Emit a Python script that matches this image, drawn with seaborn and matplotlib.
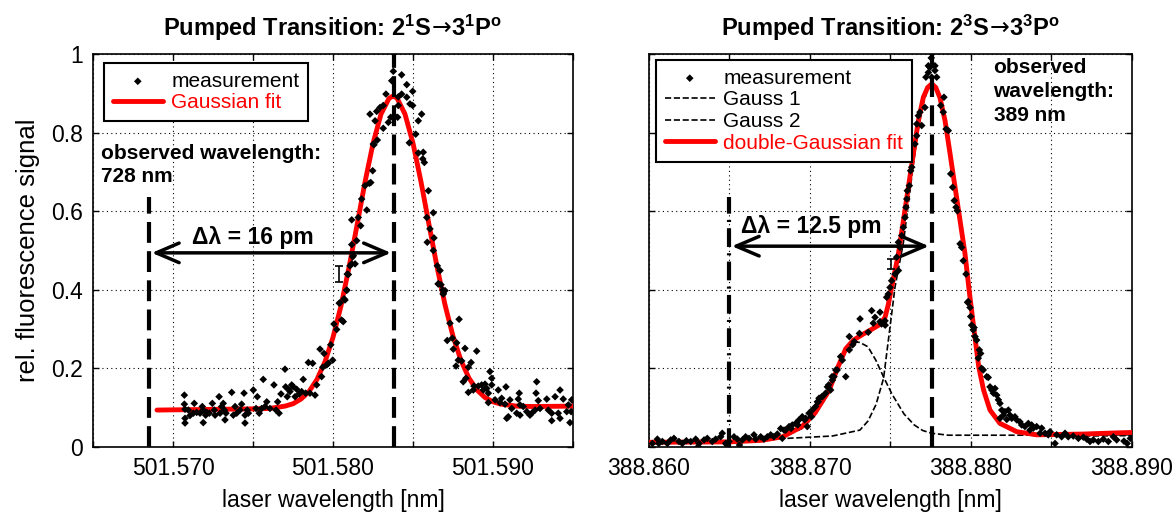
import matplotlib
matplotlib.use("Agg")
import matplotlib.pyplot as plt
import seaborn as sns
import pandas as pd

# ---------------- data ----------------
titles = [r"Pumped Transition: 2$^\mathbf{1}$S$\!\mathsf{\rightarrow}\!$3$^\mathbf{1}$P$^\mathbf{o}$",
          r"Pumped Transition: 2$^\mathbf{3}$S$\!\mathsf{\rightarrow}\!$3$^\mathbf{3}$P$^\mathbf{o}$"]
xlabel = "laser wavelength [nm]"
ylabel = "rel. fluorescence signal"

left_xlim = (501.565, 501.595)
left_xticks = [501.565, 501.570, 501.575, 501.580, 501.585, 501.590, 501.595]
left_xticklabels = ["", "501.570", "", "501.580", "", "501.590", ""]
right_xlim = (388.860, 388.890)
right_xticks = [388.860, 388.865, 388.870, 388.875, 388.880, 388.885, 388.890]
right_xticklabels = ["388.860", "", "388.870", "", "388.880", "", "388.890"]
yticks = [0, 0.2, 0.4, 0.6, 0.8, 1.0]
yticklabels = ["0", "0.2", "0.4", "0.6", "0.8", "1"]

# left panel measurement (wavelength nm, signal)
left_points = [
    (501.57071, 0.132), (501.57071, 0.109), (501.57075, 0.096), (501.57075, 0.073), (501.57096, 0.094),
    (501.57106, 0.080), (501.57127, 0.086), (501.57133, 0.111), (501.57148, 0.088), (501.57169, 0.086),
    (501.57183, 0.103), (501.57189, 0.094), (501.57204, 0.081), (501.57211, 0.088), (501.57227, 0.086),
    (501.57246, 0.111), (501.57258, 0.094), (501.57263, 0.081), (501.57288, 0.128), (501.57294, 0.086),
    (501.57304, 0.103), (501.57314, 0.111), (501.57321, 0.094), (501.57331, 0.086), (501.57367, 0.139),
    (501.57377, 0.081), (501.57388, 0.103), (501.57398, 0.086), (501.57419, 0.094), (501.57429, 0.109),
    (501.57444, 0.137), (501.57450, 0.081), (501.57464, 0.094), (501.57471, 0.086), (501.57502, 0.145),
    (501.57519, 0.098), (501.57527, 0.128), (501.57539, 0.086), (501.57554, 0.098), (501.57564, 0.172),
    (501.57575, 0.103), (501.57586, 0.115), (501.57606, 0.098), (501.57631, 0.158), (501.57644, 0.094),
    (501.57654, 0.115), (501.57663, 0.086), (501.57675, 0.135), (501.57700, 0.198), (501.57704, 0.153),
    (501.57714, 0.128), (501.57721, 0.147), (501.57731, 0.141), (501.57742, 0.158), (501.57752, 0.153),
    (501.57763, 0.128), (501.57773, 0.147), (501.57789, 0.135), (501.57804, 0.141), (501.57814, 0.172),
    (501.57829, 0.137), (501.57846, 0.215), (501.57856, 0.137), (501.57873, 0.213), (501.57888, 0.132),
    (501.57898, 0.158), (501.57919, 0.249), (501.57929, 0.179), (501.57936, 0.203), (501.57944, 0.238),
    (501.57961, 0.209), (501.57971, 0.213), (501.57986, 0.260), (501.57998, 0.221), (501.58006, 0.313),
    (501.58023, 0.299), (501.58044, 0.367), (501.58054, 0.323), (501.58064, 0.319), (501.58075, 0.374),
    (501.58086, 0.399), (501.58096, 0.439), (501.58106, 0.461), (501.58123, 0.484), (501.58138, 0.466),
    (501.57075, 0.061), (501.57189, 0.062), (501.57450, 0.061), (501.57325, 0.069),
    (501.58039, 0.366), (501.58069, 0.377), (501.58086, 0.399), (501.58089, 0.440), (501.58117, 0.466),
    (501.58127, 0.487), (501.58117, 0.515), (501.58148, 0.525), (501.58173, 0.563), (501.58158, 0.584),
    (501.58117, 0.578), (501.58211, 0.603), (501.58179, 0.631), (501.58200, 0.665), (501.58227, 0.671),
    (501.58236, 0.673), (501.58248, 0.703), (501.58252, 0.771), (501.58277, 0.781), (501.58256, 0.769),
    (501.58314, 0.811), (501.58263, 0.830), (501.58346, 0.826), (501.58231, 0.847), (501.58273, 0.854),
    (501.58294, 0.864), (501.58314, 0.869), (501.58331, 0.898), (501.58361, 0.839), (501.58388, 0.841),
    (501.58404, 0.839), (501.58408, 0.869), (501.58367, 0.932), (501.58377, 0.956), (501.58429, 0.947),
    (501.58408, 0.891), (501.58429, 0.898), (501.58461, 0.922), (501.58481, 0.873), (501.58461, 0.890),
    (501.58498, 0.905), (501.58498, 0.869), (501.58533, 0.830), (501.58554, 0.847), (501.58517, 0.796),
    (501.58477, 0.774), (501.58533, 0.748), (501.58564, 0.750), (501.58561, 0.733), (501.58571, 0.724),
    (501.58596, 0.652), (501.58627, 0.596), (501.58586, 0.584), (501.58606, 0.555), (501.58631, 0.532),
    (501.58589, 0.521), (501.58627, 0.500), (501.58652, 0.461), (501.58669, 0.449), (501.58658, 0.415),
    (501.58675, 0.413), (501.58700, 0.398), (501.58689, 0.389),
    (501.58658, 0.415), (501.58689, 0.391), (501.58686, 0.399), (501.58731, 0.315), (501.58788, 0.325),
    (501.58714, 0.271), (501.58746, 0.277), (501.58752, 0.249), (501.58773, 0.265), (501.58825, 0.251),
    (501.58898, 0.244), (501.58783, 0.221), (501.58804, 0.219), (501.58769, 0.206), (501.58863, 0.215),
    (501.58846, 0.203), (501.58831, 0.175), (501.58814, 0.166), (501.58981, 0.192), (501.58992, 0.175),
    (501.58881, 0.155), (501.58846, 0.139), (501.58908, 0.155), (501.58929, 0.158), (501.58950, 0.160),
    (501.58961, 0.149), (501.58939, 0.145), (501.58971, 0.137), (501.58877, 0.145), (501.58992, 0.158),
    (501.59033, 0.145), (501.59081, 0.153), (501.59054, 0.124), (501.59013, 0.120), (501.58971, 0.113),
    (501.59106, 0.120), (501.59164, 0.137), (501.59158, 0.122), (501.59273, 0.166), (501.59269, 0.137),
    (501.59283, 0.118), (501.59336, 0.122), (501.59419, 0.145), (501.59388, 0.128), (501.59439, 0.122),
    (501.59492, 0.120), (501.59471, 0.107), (501.59117, 0.098), (501.59096, 0.077), (501.59169, 0.081),
    (501.59211, 0.090), (501.59263, 0.094), (501.59242, 0.086), (501.59294, 0.098), (501.59346, 0.094),
    (501.59367, 0.086), (501.59408, 0.086), (501.59461, 0.090), (501.59169, 0.107), (501.59189, 0.103),
    (501.59044, 0.113), (501.59075, 0.109),
    (501.59086, 0.073), (501.59148, 0.086), (501.59231, 0.081), (501.59367, 0.067), (501.59481, 0.062),
    (501.59419, 0.073), (501.59488, 0.090),
]

# left panel Gaussian fit
left_fit_x = [501.5690, 501.5730, 501.5750, 501.5760, 501.5770, 501.5775, 501.5780, 501.5785, 501.5790,
              501.5795, 501.5800, 501.5805, 501.5810, 501.5815, 501.5820, 501.5825, 501.5830, 501.5835,
              501.58375, 501.5840, 501.5845, 501.5850, 501.5855, 501.5860, 501.5865, 501.5870, 501.5875,
              501.5880, 501.5885, 501.5890, 501.5895, 501.5900, 501.5905, 501.5915, 501.5925, 501.5950]
left_fit_y = [0.094, 0.096, 0.097, 0.098, 0.104, 0.110, 0.122, 0.141, 0.172,
              0.217, 0.279, 0.359, 0.457, 0.564, 0.674, 0.772, 0.847, 0.887,
              0.893, 0.888, 0.847, 0.773, 0.675, 0.566, 0.459, 0.362, 0.282,
              0.220, 0.175, 0.145, 0.126, 0.115, 0.109, 0.104, 0.103, 0.104]

# right panel measurement
right_points = [
    (388.86021, 0.009), (388.86052, 0.020), (388.86083, 0.014), (388.86114, 0.009), (388.86135, 0.018),
    (388.86155, 0.022), (388.86186, 0.014), (388.86207, 0.009), (388.86232, 0.016), (388.86259, 0.014),
    (388.86290, 0.020), (388.86311, 0.009), (388.86342, 0.018), (388.86362, 0.022), (388.86393, 0.014),
    (388.86414, 0.020), (388.86445, 0.026), (388.86455, 0.035), (388.86476, 0.009), (388.86497, 0.014),
    (388.86528, 0.026), (388.86549, 0.020), (388.86580, 0.018), (388.86600, 0.026), (388.86621, 0.022),
    (388.86652, 0.031), (388.86663, 0.020), (388.86694, 0.026), (388.86714, 0.020), (388.86735, 0.026),
    (388.86756, 0.031), (388.86776, 0.026), (388.86797, 0.033), (388.86828, 0.022), (388.86818, 0.047),
    (388.86849, 0.043), (388.86870, 0.052), (388.86890, 0.056), (388.86911, 0.060), (388.86932, 0.069),
    (388.86952, 0.077), (388.86973, 0.073), (388.86983, 0.052), (388.86994, 0.086), (388.87014, 0.094),
    (388.87035, 0.103), (388.87046, 0.115), (388.87056, 0.124), (388.87077, 0.128), (388.87097, 0.137),
    (388.87108, 0.153), (388.87128, 0.145), (388.87139, 0.170), (388.87149, 0.179), (388.87160, 0.196),
    (388.86061, 0.009), (388.86306, 0.001), (388.86487, 0.005), (388.86562, 0.005),
    (388.87222, 0.179), (388.87265, 0.260), (388.87244, 0.281), (388.87307, 0.289), (388.87393, 0.315),
    (388.87435, 0.319), (388.87467, 0.310), (388.87116, 0.158), (388.87137, 0.179), (388.87169, 0.196),
    (388.87201, 0.221), (388.87190, 0.230), (388.87244, 0.247), (388.87275, 0.268), (388.87073, 0.128),
    (388.87052, 0.115), (388.87009, 0.077), (388.86967, 0.069), (388.86924, 0.056), (388.86882, 0.047),
    (388.86839, 0.043),
    (388.87311, 0.326), (388.87362, 0.292), (388.87383, 0.347), (388.87404, 0.330), (388.87435, 0.343),
    (388.87445, 0.313), (388.87466, 0.321), (388.87476, 0.381), (388.87486, 0.389), (388.87497, 0.406),
    (388.87507, 0.423), (388.87528, 0.440), (388.87549, 0.449), (388.87538, 0.483), (388.87559, 0.508),
    (388.87549, 0.521), (388.87570, 0.538), (388.87580, 0.559), (388.87590, 0.584), (388.87596, 0.610),
    (388.87601, 0.631), (388.87604, 0.652), (388.87617, 0.665), (388.87625, 0.703), (388.87632, 0.712),
    (388.87652, 0.771), (388.87663, 0.792), (388.87663, 0.822), (388.87673, 0.843), (388.87683, 0.852),
    (388.87694, 0.818), (388.87714, 0.864), (388.87720, 0.941), (388.87735, 0.953), (388.87745, 0.966),
    (388.87776, 0.958), (388.87776, 0.970), (388.87735, 0.970), (388.87756, 0.941), (388.87787, 0.941),
    (388.87832, 0.890), (388.87812, 0.869), (388.87828, 0.852), (388.87845, 0.809), (388.87859, 0.805),
    (388.87874, 0.695), (388.87886, 0.661), (388.87896, 0.627), (388.87907, 0.610), (388.87915, 0.601),
    (388.87932, 0.517), (388.87942, 0.508), (388.87952, 0.474), (388.87969, 0.440), (388.87979, 0.368),
    (388.87994, 0.355), (388.88019, 0.304), (388.87753, 0.990),
    (388.87983, 0.370), (388.87998, 0.332), (388.88004, 0.310), (388.88014, 0.298), (388.88025, 0.281),
    (388.88035, 0.272), (388.88052, 0.247), (388.88060, 0.238), (388.88045, 0.226), (388.88066, 0.200),
    (388.88076, 0.196), (388.88098, 0.179), (388.88107, 0.177), (388.88118, 0.153), (388.88129, 0.145),
    (388.88149, 0.149), (388.88139, 0.137), (388.88160, 0.132), (388.88170, 0.120), (388.88180, 0.111),
    (388.88191, 0.094), (388.88211, 0.090), (388.88232, 0.094), (388.88242, 0.081), (388.88253, 0.073),
    (388.88273, 0.077), (388.88284, 0.069), (388.88304, 0.064), (388.88315, 0.056), (388.88335, 0.052),
    (388.88356, 0.060), (388.88377, 0.056), (388.88387, 0.048), (388.88408, 0.052), (388.88439, 0.048),
    (388.88460, 0.035), (388.88480, 0.031), (388.88491, 0.039), (388.88522, 0.009), (388.88532, 0.031),
    (388.88563, 0.026), (388.88584, 0.035), (388.88604, 0.026), (388.88635, 0.028), (388.88667, 0.022),
    (388.88698, 0.025), (388.88719, 0.020), (388.88739, 0.014), (388.88760, 0.018), (388.88791, 0.014),
    (388.88822, 0.020), (388.88853, 0.014), (388.88884, 0.026), (388.88905, 0.018), (388.88180, 0.073),
    (388.88201, 0.081), (388.88222, 0.070), (388.88366, 0.043), (388.88429, 0.035),
    (388.88950, 0.015), (388.88990, 0.022), (388.88970, 0.009),
]

# right panel double-Gaussian fit and its two components
right_fit_x = [388.8600, 388.8650, 388.8670, 388.8683, 388.8695, 388.8703, 388.8712, 388.8717, 388.87222,
               388.8727, 388.87329, 388.87373, 388.87435, 388.87466, 388.87486, 388.87507, 388.87549,
               388.8758, 388.87611, 388.87642, 388.87673, 388.87704, 388.87731, 388.87756, 388.87781,
               388.87807, 388.87839, 388.8787, 388.87901, 388.87932, 388.87963, 388.87988, 388.88018,
               388.88048, 388.88078, 388.88118, 388.8818, 388.88284, 388.88408, 388.88698, 388.88913,
               388.8900]
right_fit_y = [0.012, 0.013, 0.017, 0.026, 0.052, 0.086, 0.145, 0.200, 0.250,
               0.272, 0.287, 0.297, 0.312, 0.330, 0.362, 0.406, 0.491,
               0.576, 0.661, 0.746, 0.830, 0.890, 0.915, 0.924, 0.915,
               0.889, 0.830, 0.746, 0.661, 0.576, 0.491, 0.400, 0.300,
               0.204, 0.145, 0.094, 0.060, 0.039, 0.031, 0.033, 0.036,
               0.037]
gauss1_x = [388.8600, 388.8650, 388.8670, 388.8683, 388.8695, 388.8703, 388.8712, 388.8717, 388.8722,
            388.8727, 388.8729, 388.8731, 388.8736, 388.8741, 388.87457, 388.8751, 388.87584, 388.87648,
            388.8770, 388.87755, 388.8786, 388.8830, 388.8900]
gauss1_y = [0.012, 0.013, 0.016, 0.024, 0.047, 0.080, 0.140, 0.192, 0.240,
            0.262, 0.267, 0.266, 0.255, 0.220, 0.178, 0.134, 0.084, 0.056,
            0.042, 0.035, 0.030, 0.030, 0.031]
gauss2_x = [388.8686, 388.8714, 388.8731, 388.8736, 388.8741, 388.87457, 388.8750, 388.87528, 388.8758,
            388.87611, 388.87642, 388.87673, 388.87704, 388.87731, 388.87756, 388.87781, 388.87807,
            388.87839, 388.8787, 388.87901, 388.87932, 388.87963, 388.87988, 388.88018, 388.88048,
            388.88078, 388.88118, 388.8818, 388.88284, 388.88408, 388.8870, 388.8900]
gauss2_y = [0.022, 0.028, 0.043, 0.066, 0.108, 0.175, 0.315, 0.407, 0.520,
            0.620, 0.720, 0.810, 0.875, 0.910, 0.921, 0.912, 0.886,
            0.827, 0.743, 0.658, 0.573, 0.488, 0.397, 0.297, 0.201,
            0.142, 0.091, 0.057, 0.036, 0.028, 0.028, 0.029]

# annotations
left_observed_wl, left_pump_wl = 501.5685, 501.5838
right_observed_wl, right_pump_wl = 388.86497, 388.87756
observed_line_top = 0.636
left_arrow_y, right_arrow_y = 0.494, 0.511
left_delta_text, right_delta_text = "Δλ = 16 pm", "Δλ = 12.5 pm"
left_delta_pos, right_delta_pos = (501.5750, 0.534), (388.8701, 0.562)
left_obs_text, right_obs_text = "observed wavelength:\n728 nm", "observed\nwavelength:\n389 nm"
left_obs_pos, right_obs_pos = (501.5655, 0.772), (388.8814, 0.990)
left_err = (501.58038, 0.440, 0.020)
right_err = (388.87505, 0.466, 0.013)

# ---------------- style ----------------
sns.set_theme(style="white")
plt.rcParams["font.family"] = ["Liberation Sans", "DejaVu Sans"]
plt.rcParams["mathtext.fontset"] = "custom"
plt.rcParams["mathtext.rm"] = "Liberation Sans"
plt.rcParams["mathtext.bf"] = "Liberation Sans:bold"
plt.rcParams["mathtext.it"] = "Liberation Sans:italic"
plt.rcParams["mathtext.sf"] = "DejaVu Sans"

fig = plt.figure(figsize=(11.75, 5.12), dpi=100)
axL = fig.add_axes([93 / 1175, 65 / 512, 480 / 1175, 393 / 512])
axR = fig.add_axes([649 / 1175, 65 / 512, 483 / 1175, 393 / 512])

TICK_FS = 16.5
LEG_FS = 15


def style_axis(ax, xlim, xticks, xticklabels, show_y, title):
    ax.set_xlim(*xlim)
    ax.set_ylim(0, 1)
    ax.set_xticks(xticks)
    ax.set_xticklabels(xticklabels)
    ax.set_yticks(yticks)
    ax.set_yticklabels(yticklabels if show_y else [])
    ax.grid(True, color="black", linestyle=(0, (1, 3)), linewidth=0.8)
    ax.tick_params(direction="in", length=4, width=1, colors="black", labelsize=TICK_FS,
                   bottom=True, left=True, top=True, right=True, pad=7)
    for s in ax.spines.values():
        s.set_visible(True)
        s.set_color("black")
        s.set_linewidth(1.2)
    ax.set_xlabel(xlabel, fontsize=TICK_FS, color="black", labelpad=7)
    ax.set_title(title, fontsize=17, fontweight="bold", color="black", pad=13)


def draw_points(ax, pts):
    df = pd.DataFrame(pts, columns=["wl", "sig"])
    sns.scatterplot(data=df, x="wl", y="sig", ax=ax, marker="D", s=15, color="black",
                    edgecolor="none", linewidth=0, label="measurement", zorder=5)


def draw_line(ax, xs, ys, label, color, lw, ls, z):
    df = pd.DataFrame({"wl": xs, "sig": ys})
    sns.lineplot(data=df, x="wl", y="sig", ax=ax, color=color, linewidth=lw, linestyle=ls,
                 label=label, estimator=None, sort=False, zorder=z)


def make_legend(ax, order, anchor):
    h, l = ax.get_legend_handles_labels()
    hd = dict(zip(l, h))
    leg = ax.legend([hd[k] for k in order], order, loc="upper left", bbox_to_anchor=anchor,
                    borderaxespad=0, fontsize=LEG_FS, frameon=True, fancybox=False, framealpha=1,
                    edgecolor="black", labelspacing=0.13, handlelength=2.4, handletextpad=0.4,
                    borderpad=0.42)
    leg.get_frame().set_linewidth(1.5)
    for t in leg.get_texts():
        t.set_color("red" if "fit" in t.get_text() else "black")
    return leg


# ---- left panel ----
draw_line(axL, left_fit_x, left_fit_y, "Gaussian fit", "red", 3.5, "-", 3)
draw_points(axL, left_points)
axL.errorbar([left_err[0]], [left_err[1]], yerr=[left_err[2]], fmt="none", ecolor="black",
             elinewidth=1.2, capsize=3, capthick=1.2, zorder=6)
axL.vlines(left_observed_wl, 0, observed_line_top, colors="black", linewidth=3, linestyles=(0, (5, 2)), zorder=4)
axL.vlines(left_pump_wl, 0, 1, colors="black", linewidth=3, linestyles=(0, (5, 2)), zorder=4)
axL.annotate("", xy=(left_pump_wl, left_arrow_y), xytext=(left_observed_wl, left_arrow_y),
             arrowprops=dict(arrowstyle="<->,head_length=0.75,head_width=0.32", color="black", lw=2.5,
                             mutation_scale=22, shrinkA=2, shrinkB=2), zorder=7)
axL.text(*left_delta_pos, left_delta_text, fontsize=16.5, fontweight="bold", ha="center", va="center", color="black")
axL.text(*left_obs_pos, left_obs_text, fontsize=15, fontweight="bold", ha="left", va="top", color="black",
         linespacing=1.3)
style_axis(axL, left_xlim, left_xticks, left_xticklabels, True, titles[0])
axL.set_ylabel(ylabel, fontsize=18.5, color="black", labelpad=8)
make_legend(axL, ["measurement", "Gaussian fit"], (0.023, 0.977))

# ---- right panel ----
draw_line(axR, gauss1_x, gauss1_y, "Gauss 1", "black", 1.2, "--", 2)
draw_line(axR, gauss2_x, gauss2_y, "Gauss 2", "black", 1.2, "--", 2)
draw_line(axR, right_fit_x, right_fit_y, "double-Gaussian fit", "red", 3.5, "-", 3)
draw_points(axR, right_points)
axR.errorbar([right_err[0]], [right_err[1]], yerr=[right_err[2]], fmt="none", ecolor="black",
             elinewidth=1.2, capsize=3, capthick=1.2, zorder=6)
axR.vlines(right_observed_wl, 0, observed_line_top, colors="black", linewidth=3,
           linestyles=(0, (4.5, 1.5, 0.5, 1.5)), zorder=4)
axR.vlines(right_pump_wl, 0, 1, colors="black", linewidth=3, linestyles=(0, (5, 2)), zorder=4)
axR.annotate("", xy=(right_pump_wl, right_arrow_y), xytext=(right_observed_wl, right_arrow_y),
             arrowprops=dict(arrowstyle="<->,head_length=0.75,head_width=0.32", color="black", lw=2.5,
                             mutation_scale=22, shrinkA=2, shrinkB=2), zorder=7)
axR.text(*right_delta_pos, right_delta_text, fontsize=16.5, fontweight="bold", ha="center", va="center", color="black")
axR.text(*right_obs_pos, right_obs_text, fontsize=15, fontweight="bold", ha="left", va="top", color="black",
         linespacing=1.35)
style_axis(axR, right_xlim, right_xticks, right_xticklabels, False, titles[1])
axR.set_ylabel("")
make_legend(axR, ["measurement", "Gauss 1", "Gauss 2", "double-Gaussian fit"], (0.0145, 0.985))

fig.savefig("out.png", dpi=100)
